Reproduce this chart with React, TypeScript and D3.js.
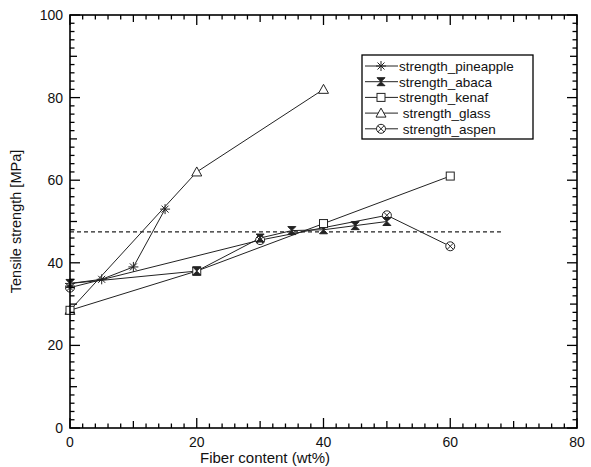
import React from 'react';
import * as d3 from 'd3';

// series values
const pineappleX = [0, 5, 10, 15];
const pineappleY = [35, 36, 39, 53];
const abacaX = [0, 20, 30, 35, 40, 45, 50];
const abacaY = [35, 38, 46, 47.8, 48, 49, 50];
const kenafX = [0, 20, 40, 60];
const kenafY = [28.5, 38, 49.5, 61];
const glassX = [0, 20, 40];
const glassY = [28.5, 62, 82];
const aspenX = [0, 30, 50, 60];
const aspenY = [34, 45.5, 51.5, 44];

const refLineX = [0, 68];
const refLineY = 47.5;

const xTicks = [0, 20, 40, 60, 80];
const yTicks = [0, 20, 40, 60, 80, 100];

const seriesNames = ['strength_pineapple', 'strength_abaca', 'strength_kenaf', ' strength_glass', ' strength_aspen'];

const W = 591, H = 467;
const margin = { top: 15, right: 14, bottom: 39, left: 70 };

const x = d3.scaleLinear().domain([0, 80]).range([margin.left, W - margin.right]);
const y = d3.scaleLinear().domain([0, 100]).range([H - margin.bottom, margin.top]);

const INK = '#222';

function Marker({ kind, cx, cy }: { kind: string; cx: number; cy: number }) {
  if (kind === 'asterisk') {
    const r = 5;
    return (
      <g stroke={INK} strokeWidth={1}>
        <line x1={cx - r} y1={cy} x2={cx + r} y2={cy} />
        <line x1={cx} y1={cy - r} x2={cx} y2={cy + r} />
        <line x1={cx - r * 0.7} y1={cy - r * 0.7} x2={cx + r * 0.7} y2={cy + r * 0.7} />
        <line x1={cx - r * 0.7} y1={cy + r * 0.7} x2={cx + r * 0.7} y2={cy - r * 0.7} />
      </g>
    );
  }
  if (kind === 'hourglass') {
    const r = 4;
    return (
      <path
        d={`M${cx - r},${cy - r}H${cx + r}L${cx - r},${cy + r}H${cx + r}Z`}
        fill={INK}
        stroke={INK}
        strokeWidth={1}
      />
    );
  }
  if (kind === 'square') {
    const r = 4;
    return <rect x={cx - r} y={cy - r} width={2 * r} height={2 * r} fill="white" stroke={INK} strokeWidth={1} />;
  }
  if (kind === 'triangle') {
    const r = 5;
    return (
      <path
        d={`M${cx},${cy - r}L${cx + r},${cy + r * 0.8}L${cx - r},${cy + r * 0.8}Z`}
        fill="white"
        stroke={INK}
        strokeWidth={1}
      />
    );
  }
  const r = 4.5;
  const d = r * 0.7;
  return (
    <g stroke={INK} strokeWidth={1}>
      <circle cx={cx} cy={cy} r={r} fill="white" />
      <line x1={cx - d} y1={cy - d} x2={cx + d} y2={cy + d} />
      <line x1={cx - d} y1={cy + d} x2={cx + d} y2={cy - d} />
    </g>
  );
}

const series = [
  { xs: pineappleX, ys: pineappleY, kind: 'asterisk' },
  { xs: abacaX, ys: abacaY, kind: 'hourglass' },
  { xs: kenafX, ys: kenafY, kind: 'square' },
  { xs: glassX, ys: glassY, kind: 'triangle' },
  { xs: aspenX, ys: aspenY, kind: 'circlex' },
];

function tickLen(v: number) {
  if (v % 20 === 0) return 10;
  if (v % 10 === 0) return 7;
  return 4.5;
}

export default function App() {
  const x0 = x(0), x1 = x(80), y0 = y(0), y1 = y(100);
  const xMinor = d3.range(0, 80.01, 2);
  const yMinor = d3.range(0, 100.01, 2);
  const font = 'Liberation Sans, Arial, sans-serif';

  const legX = 362, legY = 55, legW = 171, legH = 84, rowH = 15.7;

  return (
    <svg width={W} height={H} style={{ position: 'absolute', left: 0, top: 0, background: 'white' }} fontFamily={font}>
      {/* reference dashed line */}
      <line x1={x(refLineX[0])} x2={x(refLineX[1])} y1={y(refLineY)} y2={y(refLineY)} stroke={INK} strokeWidth={1.2} strokeDasharray="4,3" />

      {/* series lines */}
      {series.map((s, si) => {
        const path = d3.line<number>().x((v) => x(v)).y((_, i) => y(s.ys[i]))(s.xs);
        return <path key={si} d={path || ''} fill="none" stroke={INK} strokeWidth={1} />;
      })}
      {/* series markers, glass first so the kenaf square sits on top at 0 */}
      {[3, 0, 4, 1, 2].map((si) => {
        const s = series[si];
        return (
          <g key={si}>
            {s.xs.map((v, i) => (
              <Marker key={i} kind={s.kind} cx={x(v)} cy={y(s.ys[i])} />
            ))}
          </g>
        );
      })}
      {/* abaca marker over kenaf at 20 */}
      <Marker kind="hourglass" cx={x(abacaX[1])} cy={y(abacaY[1])} />

      {/* frame */}
      <rect x={x0} y={y1} width={x1 - x0} height={y0 - y1} fill="none" stroke="black" strokeWidth={1.6} />

      {/* x ticks bottom & top */}
      {xMinor.map((v) => {
        const len = tickLen(v);
        return (
          <g key={'x' + v} stroke="black" strokeWidth={1.3}>
            <line x1={x(v)} x2={x(v)} y1={y0} y2={y0 - len} />
            <line x1={x(v)} x2={x(v)} y1={y1} y2={y1 + len} />
          </g>
        );
      })}
      {/* y ticks left & right */}
      {yMinor.map((v) => {
        const len = tickLen(v);
        return (
          <g key={'y' + v} stroke="black" strokeWidth={1.3}>
            <line x1={x0} x2={x0 + len} y1={y(v)} y2={y(v)} />
            <line x1={x1} x2={x1 - len} y1={y(v)} y2={y(v)} />
          </g>
        );
      })}

      {/* tick labels */}
      {xTicks.map((v) => (
        <text key={'xl' + v} x={x(v)} y={y0 + 19} textAnchor="middle" fontSize={14} fill="#111">
          {v}
        </text>
      ))}
      {yTicks.map((v) => (
        <text key={'yl' + v} x={x0 - 7} y={y(v) + 5} textAnchor="end" fontSize={14} fill="#111">
          {v}
        </text>
      ))}

      {/* axis titles */}
      <text x={265} y={H - 4} textAnchor="middle" fontSize={15} fill="#111">
        Fiber content (wt%)
      </text>
      <text transform={`translate(21,${(y0 + y1) / 2}) rotate(-90)`} textAnchor="middle" fontSize={14.5} fill="#111">
        Tensile strength [MPa]
      </text>

      {/* legend */}
      <rect x={legX} y={legY} width={legW} height={legH} fill="white" stroke="black" strokeWidth={1.3} />
      {series.map((s, i) => {
        const ry = legY + 11 + i * rowH;
        return (
          <g key={'lg' + i}>
            <line x1={legX + 3} x2={legX + 36} y1={ry} y2={ry} stroke={INK} strokeWidth={1} />
            <Marker kind={s.kind} cx={legX + 19} cy={ry} />
            <text x={legX + 37} y={ry + 5} fontSize={13.5} fill="#111" style={{ whiteSpace: 'pre' }}>
              {seriesNames[i]}
            </text>
          </g>
        );
      })}
    </svg>
  );
}
